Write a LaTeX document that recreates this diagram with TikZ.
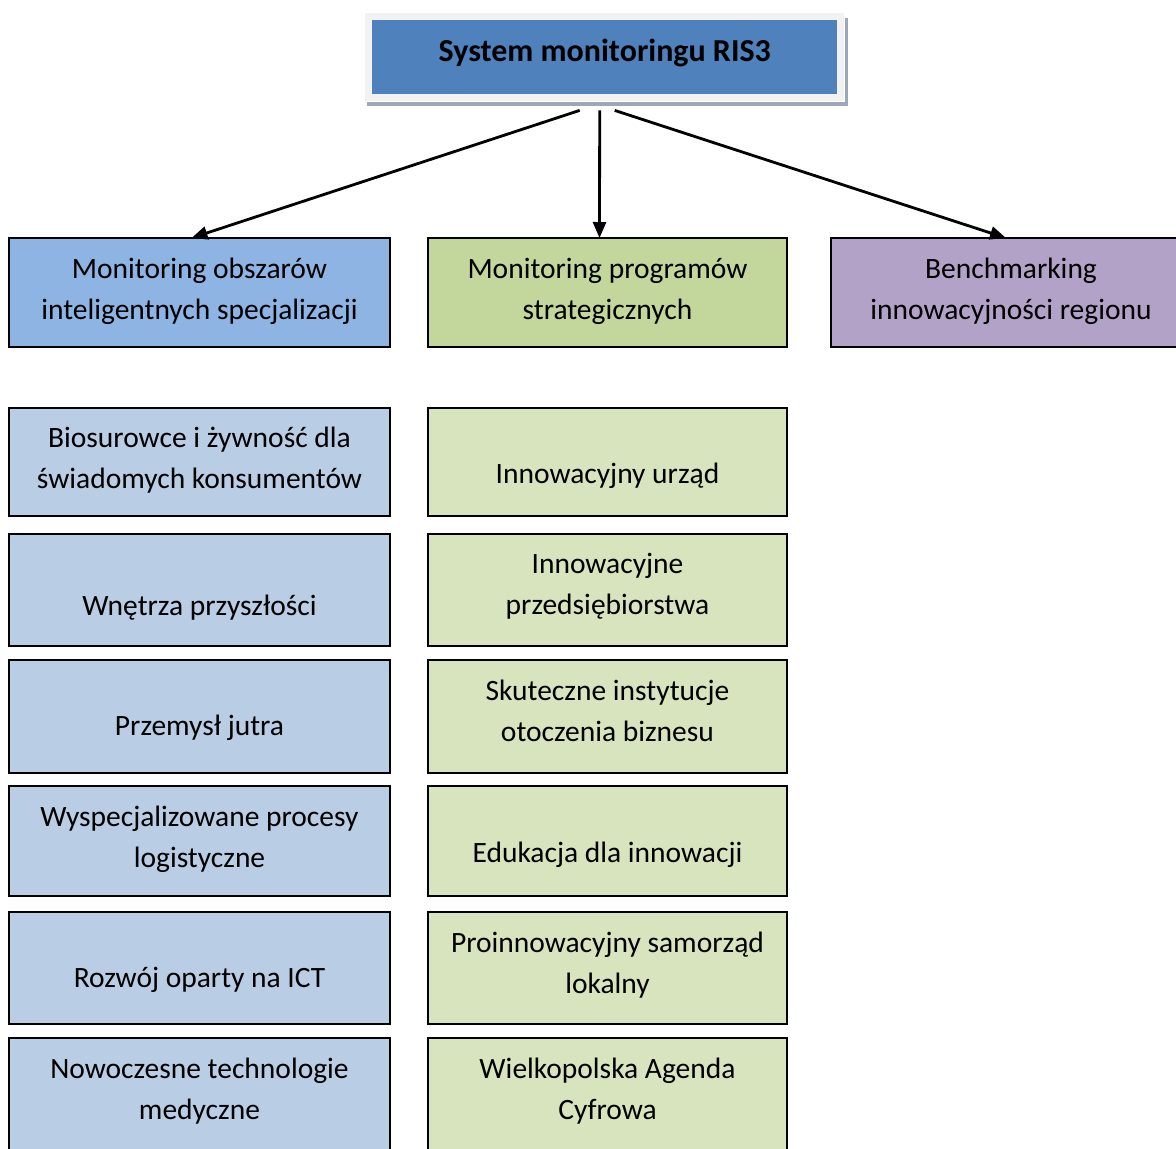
\documentclass[tikz,border=0pt]{standalone}
\usepackage{fontspec}
\setmainfont{Carlito}
\usetikzlibrary{arrows.meta,calc}
\definecolor{topblue}{HTML}{4F81BD}
\definecolor{lblue}{HTML}{8EB4E3}
\definecolor{lgreen}{HTML}{C3D69B}
\definecolor{lpurple}{HTML}{B3A2C7}
\definecolor{pblue}{HTML}{B9CDE5}
\definecolor{pgreen}{HTML}{D7E4BD}
\definecolor{frame}{HTML}{F2F2F2}
\definecolor{shadow}{HTML}{9AA8B8}
\newcommand\twolines[1]{\begin{tabular}[t]{@{}c@{}}#1\end{tabular}}
\begin{document}
\begin{tikzpicture}[x=1pt,y=-1pt,
  box/.style={draw=black,line width=1.4pt,anchor=north west,inner sep=0pt,outer sep=0pt},
  lbox/.style={box,minimum width=381pt},
  mbox/.style={box,minimum width=359pt},
  txt/.style={font=\fontsize{29.5}{41}\selectfont,anchor=base,inner sep=0pt,align=center},
  arr/.style={line width=2.8pt,-{Triangle[length=16pt,width=13pt]}}]
\useasboundingbox (0,0) rectangle (1176,1149);
\clip (0,0) rectangle (1176,1149);
% title box with frame and shadow
\fill[shadow] (367,18) rectangle (848,106);
\filldraw[fill=frame,draw=white,line width=0.8pt] (364,12) rectangle (844,101);
\node[anchor=north west,fill=topblue,minimum width=465pt,minimum height=74pt,inner sep=0pt] (top) at (372,20) {};
\node[txt,font=\fontsize{32}{41}\selectfont\bfseries] (toptxt) at ($(top.north)+(0,41)$) {System monitoringu RIS3};
% level 1
\node[lbox,fill=lblue,minimum height=109pt] (a) at (9,238) {};
\node[mbox,fill=lgreen,minimum height=109pt] (b) at (428,238) {};
\node[box,fill=lpurple,minimum width=360pt,minimum height=109pt] (c) at (831,238) {};
\node[txt] (at) at ($(a.north)+(0,40)$) {\twolines{Monitoring obszarów\\inteligentnych specjalizacji}};
\node[txt] (bt) at ($(b.north)+(0,40)$) {\twolines{Monitoring programów\\strategicznych}};
\node[txt] (ct) at ($(c.north)+(0,40)$) {\twolines{Benchmarking\\innowacyjności regionu}};
% arrows
\draw[arr] ([xshift=-25pt,yshift=-16pt]top.south) -- ([xshift=-8pt]a.north);
\draw[arr] ([xshift=-5pt,yshift=-16pt]top.south) -- ([xshift=-8pt]b.north);
\draw[arr] ([xshift=10pt,yshift=-16pt]top.south) -- ([xshift=-5pt]c.north);
% left column
\node[lbox,fill=pblue,minimum height=108pt] (l1) at (9,408) {};
\node[lbox,fill=pblue,minimum height=112pt] (l2) at (9,534) {};
\node[lbox,fill=pblue,minimum height=113pt] (l3) at (9,660) {};
\node[lbox,fill=pblue,minimum height=110pt] (l4) at (9,786) {};
\node[lbox,fill=pblue,minimum height=112pt] (l5) at (9,912) {};
\node[lbox,fill=pblue,minimum height=130pt] (l6) at (9,1038) {};
% middle column
\node[mbox,fill=pgreen,minimum height=108pt] (m1) at (428,408) {};
\node[mbox,fill=pgreen,minimum height=112pt] (m2) at (428,534) {};
\node[mbox,fill=pgreen,minimum height=113pt] (m3) at (428,660) {};
\node[mbox,fill=pgreen,minimum height=110pt] (m4) at (428,786) {};
\node[mbox,fill=pgreen,minimum height=112pt] (m5) at (428,912) {};
\node[mbox,fill=pgreen,minimum height=130pt] (m6) at (428,1038) {};
% texts
\node[txt] (l1t) at ($(l1.north)+(0,39)$) {\twolines{Biosurowce i żywność dla\\świadomych konsumentów}};
\node[txt] (l2t) at ($(l2.north)+(0,81)$) {Wnętrza przyszłości};
\node[txt] (l3t) at ($(l3.north)+(0,75)$) {Przemysł jutra};
\node[txt] (l4t) at ($(l4.north)+(0,40)$) {\twolines{Wyspecjalizowane procesy\\logistyczne}};
\node[txt] (l5t) at ($(l5.north)+(0,75)$) {Rozwój oparty na ICT};
\node[txt] (l6t) at ($(l6.north)+(0,40)$) {\twolines{Nowoczesne technologie\\medyczne}};
\node[txt] (m1t) at ($(m1.north)+(0,75)$) {Innowacyjny urząd};
\node[txt] (m2t) at ($(m2.north)+(0,39)$) {\twolines{Innowacyjne\\przedsiębiorstwa}};
\node[txt] (m3t) at ($(m3.north)+(0,40)$) {\twolines{Skuteczne instytucje\\otoczenia biznesu}};
\node[txt] (m4t) at ($(m4.north)+(0,76)$) {Edukacja dla innowacji};
\node[txt] (m5t) at ($(m5.north)+(0,40)$) {\twolines{Proinnowacyjny samorząd\\lokalny}};
\node[txt] (m6t) at ($(m6.north)+(0,40)$) {\twolines{Wielkopolska Agenda\\Cyfrowa}};
\end{tikzpicture}
\end{document}
